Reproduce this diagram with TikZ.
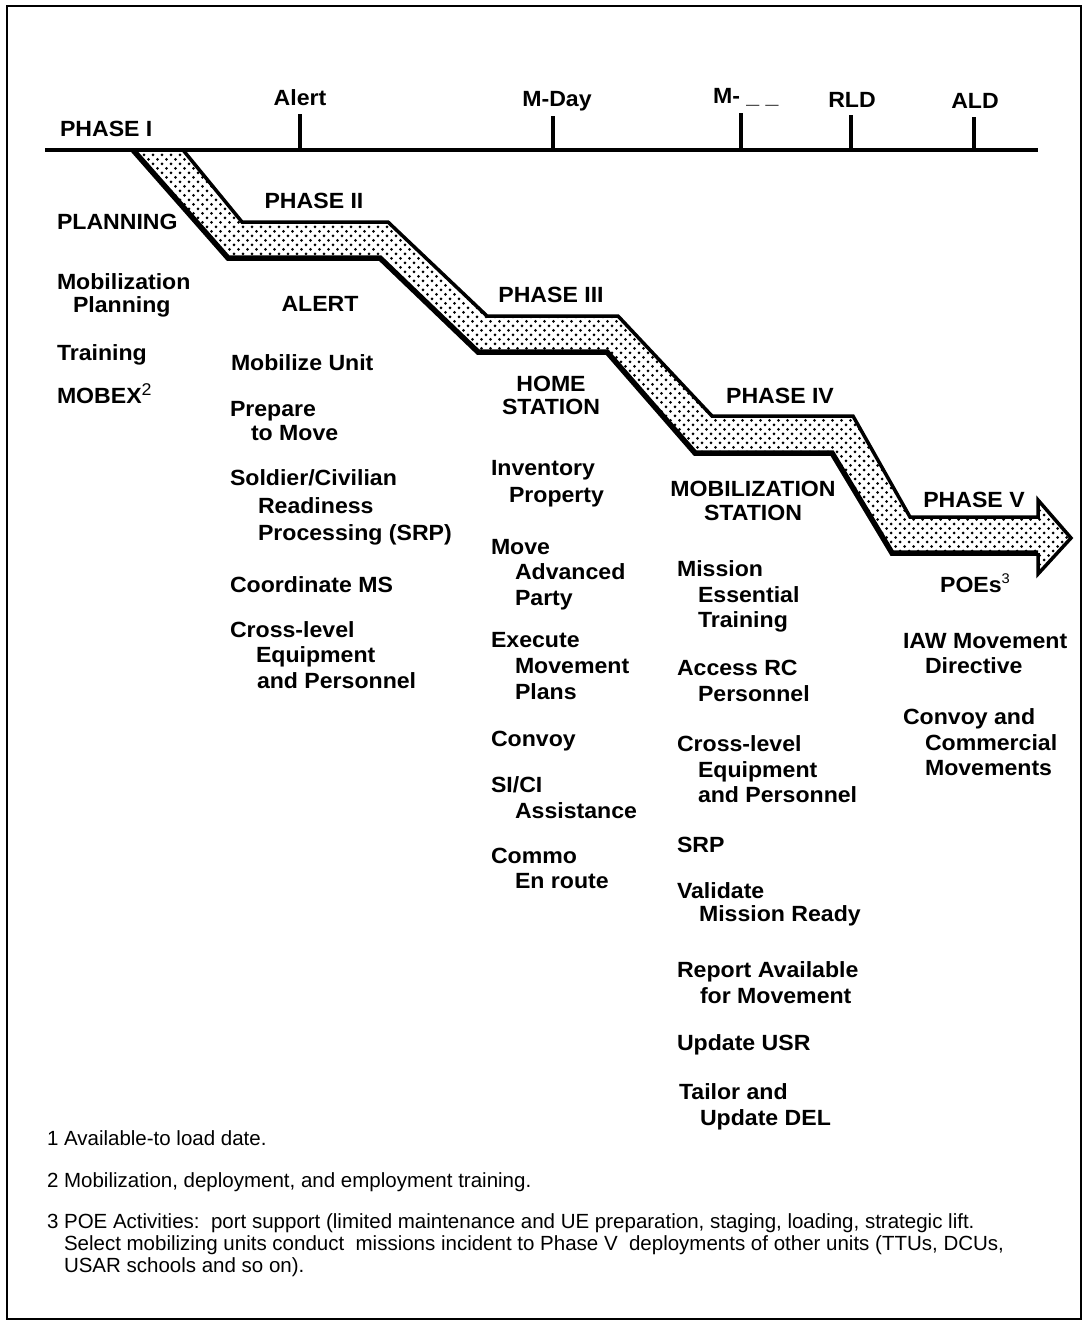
\documentclass[tikz,border=0pt]{standalone}
\usepackage{fontspec}
\setmainfont{Liberation Sans}
\newfontfamily\labelfont{Liberation Sans}[FakeStretch=1.05]
\usetikzlibrary{patterns}

% staggered dot screen for the phase band
\pgfdeclarepatternformonly{banddots}{\pgfqpoint{-1.7pt}{-1.7pt}}{\pgfqpoint{6.2pt}{6.2pt}}{\pgfqpoint{9pt}{9pt}}{%
  \pgfpathcircle{\pgfqpoint{0pt}{0pt}}{1.5pt}%
  \pgfpathcircle{\pgfqpoint{4.5pt}{4.5pt}}{1.5pt}%
  \pgfusepath{fill}}

\begin{document}
\begin{tikzpicture}[x=1pt,y=-1pt,
  lbl/.style={font=\labelfont\bfseries\fontsize{22}{26}\selectfont, inner sep=0pt, outer sep=0pt,
              anchor=north west, align=left},
  clbl/.style={lbl, anchor=north, align=center},
  note/.style={font=\fontsize{20.5}{22}\selectfont, inner sep=0pt, outer sep=0pt,
               anchor=north west, align=left},
  tickmark/.style={line width=4pt},
  bandedge/.style={line width=3.5pt, line join=miter},
  bandshadow/.style={line width=5.5pt, line join=miter}]

\useasboundingbox (0,0) rectangle (1088,1325);
\draw[line width=2pt] (7,6) rectangle (1081,1319);

% ---------- phase band ----------
\path[pattern=banddots]
  (183,150) -- (242,222) -- (388,222) -- (487,316) -- (618,316) -- (712,416)
  -- (853,416) -- (910,517) -- (1038,517) -- (1038,500) -- (1071,538)
  -- (1038,574) -- (1038,553) -- (892,553) -- (832,453) -- (695,453)
  -- (607,352) -- (478,352) -- (380,258) -- (228,258) -- (133,150) -- cycle;
\draw[bandedge]
  (183,150) -- (242,222) -- (388,222) -- (487,316) -- (618,316) -- (712,416)
  -- (853,416) -- (910,517) -- (1038,517) -- (1038,500) -- (1071,538)
  -- (1038,574) -- (1038,553);
\draw[bandshadow]
  (1038,553) -- (892,553) -- (832,453) -- (695,453) -- (607,352) -- (478,352)
  -- (380,258) -- (228,258) -- (133,150);

% ---------- time line ----------
\coordinate (tlStart) at (45,150);
\coordinate (tlEnd) at (1038,150);
\coordinate (tAlert) at (300,150);
\coordinate (tMday) at (553,150);
\coordinate (tM) at (741,150);
\coordinate (tRLD) at (851,150);
\coordinate (tALD) at (974,150);
\draw[line width=4.5pt] (tlStart) -- (tlEnd);
\draw[tickmark] (tAlert) -- ++(0,-36);
\draw[tickmark] (tMday) -- ++(0,-34);
\draw[tickmark] (tM) -- ++(0,-37);
\draw[tickmark] (tRLD) -- ++(0,-35);
\draw[tickmark] (tALD) -- ++(0,-33);

\node[lbl]  (phI)   at (60,121)  {PHASE I};
\node[clbl] (alert) at (300,90)  {Alert};
\node[clbl] (mday)  at (557,91)  {M-Day};
\node[lbl]  (mdash) at (713,88)  {M-\ \_\ \_};
\node[clbl] (rld)   at (852,92)  {RLD};
\node[clbl] (ald)   at (975,93)  {ALD};

% ---------- phase I ----------
\node[lbl] (planning) at (57,214) {PLANNING};
\node[lbl] (mobplan)  at (57,274) {Mobilization\\[-3pt]\hspace*{16pt}Planning};
\node[lbl] (training) at (57,345) {Training};
\node[lbl] (mobex)    at (57,388) {MOBEX\smash{\raisebox{8pt}{\fontsize{17}{17}\selectfont\mdseries 2}}};

% ---------- phase II ----------
\node[clbl] (ph2)     at (314,193) {PHASE II};
\node[clbl] (alertH)  at (320,296) {ALERT};
\node[lbl]  (mobunit) at (231,355) {Mobilize Unit};
\node[lbl]  (prep)    at (230,401) {Prepare\\[-2pt]\hspace*{21pt}to Move};
\node[lbl]  (srpA)    at (230,470) {Soldier/Civilian\\[1.5pt]\hspace*{28pt}Readiness\\[1pt]\hspace*{28pt}Processing (SRP)};
\node[lbl]  (coord)   at (230,577) {Coordinate MS};
\node[lbl]  (xlevA)   at (230,622) {Cross-level\\[-1pt]\hspace*{26pt}Equipment\\\hspace*{27pt}and Personnel};

% ---------- phase III ----------
\node[clbl] (ph3)    at (551,287) {PHASE III};
\node[clbl] (home)   at (551,376) {HOME\\[-3pt]STATION};
\node[lbl]  (inv)    at (491,460) {Inventory\\[1pt]\hspace*{18pt}Property};
\node[lbl]  (move)   at (491,539) {Move\\[-1pt]\hspace*{24pt}Advanced\\\hspace*{24pt}Party};
\node[lbl]  (exec)   at (491,632) {Execute\\\hspace*{24pt}Movement\\\hspace*{24pt}Plans};
\node[lbl]  (convoy) at (491,731) {Convoy};
\node[lbl]  (sici)   at (491,777) {SI/CI\\\hspace*{24pt}Assistance};
\node[lbl]  (commo)  at (491,848) {Commo\\[-1pt]\hspace*{24pt}En route};

% ---------- phase IV ----------
\node[clbl] (ph4)     at (780,388)  {PHASE IV};
\node[clbl] (mobst)   at (753,481)  {MOBILIZATION\\[-2pt]STATION};
\node[lbl]  (mission) at (677,561)  {Mission\\\hspace*{21pt}Essential\\[-1pt]\hspace*{21pt}Training};
\node[lbl]  (access)  at (677,660)  {Access RC\\\hspace*{21pt}Personnel};
\node[lbl]  (xlevB)   at (677,736)  {Cross-level\\\hspace*{21pt}Equipment\\[-1pt]\hspace*{21pt}and Personnel};
\node[lbl]  (srpB)    at (677,837)  {SRP};
\node[lbl]  (valid)   at (677,883)  {Validate\\[-3pt]\hspace*{22pt}Mission Ready};
\node[lbl]  (report)  at (677,962)  {Report Available\\\hspace*{23pt}for Movement};
\node[lbl]  (usr)     at (677,1035) {Update USR};
\node[lbl]  (tailor)  at (679,1084) {Tailor and\\\hspace*{21pt}Update DEL};

% ---------- phase V ----------
\node[clbl] (ph5)     at (974,492) {PHASE V};
\node[clbl] (poes)    at (975,577) {POEs\smash{\raisebox{9pt}{\fontsize{14}{14}\selectfont\mdseries 3}}};
\node[lbl]  (iaw)     at (903,633) {IAW Movement\\[-1pt]\hspace*{22pt}Directive};
\node[lbl]  (convcom) at (903,709) {Convoy and\\\hspace*{22pt}Commercial\\[-1pt]\hspace*{22pt}Movements};

% ---------- footnotes ----------
\node[note] (fnA) at (47,1131) {1 Available-to load date.};
\node[note] (fnB) at (47,1173) {2 Mobilization, deployment, and employment training.};
\node[note] (fnC) at (47,1214) {3 POE Activities:\ \ port support (limited maintenance and UE preparation, staging, loading, strategic lift.\\\hspace*{17pt}Select mobilizing units conduct\ \ missions incident to Phase V\ \ deployments of other units (TTUs, DCUs,\\\hspace*{17pt}USAR schools and so on).};

\end{tikzpicture}
\end{document}
